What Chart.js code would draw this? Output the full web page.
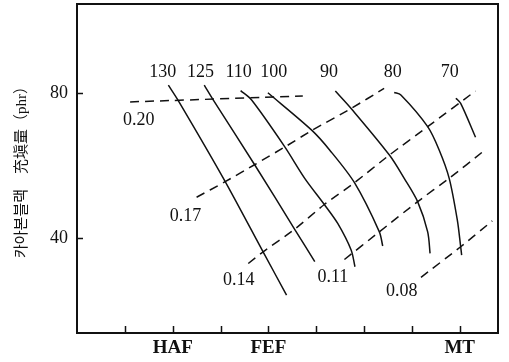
<!DOCTYPE html>
<html>
<head>
<meta charset="utf-8">
<script src="https://cdn.jsdelivr.net/npm/chart.js@4/dist/chart.umd.min.js"></script>
<style>
  html, body { margin: 0; padding: 0; background: #fff; }
  canvas { display: block; }
</style>
</head>
<body>
<canvas id="chart" width="509" height="362"></canvas>
<script>
// =========================
//  DATA
// =========================

const X_TICKS = [1, 2, 3, 4, 5, 6, 7, 8];
const X_TICK_NAMES = { 2: "HAF", 4: "FEF", 8: "MT" };
const Y_TICKS = [40, 80];
const Y_TITLE = "카아본블랙　充塡量（phr）";

// solid curves, [x, y] points
const c130 = [[1.91, 82.1], [2.12, 77.8], [3.06, 56.5], [3.89, 36.3], [4.38, 24.4]];
const c125 = [[2.66, 82.1], [2.85, 78.0], [3.72, 60.1], [4.55, 42.5], [4.97, 33.6]];
const c110 = [[3.42, 80.6], [3.65, 78.0], [4.34, 65.2], [4.76, 56.5], [5.17, 49.3], [5.45, 44.1], [5.73, 36.8], [5.81, 32.2]];
const c100 = [[3.99, 80.0], [4.90, 69.8], [5.28, 64.3], [5.80, 55.3], [6.32, 41.8], [6.39, 37.9]];
const c90  = [[5.40, 80.5], [5.73, 75.7], [6.53, 62.9], [6.84, 56.5], [7.12, 50.1], [7.33, 41.8], [7.38, 35.9]];
const c80  = [[6.63, 80.1], [6.77, 79.4], [7.33, 70.7], [7.57, 64.3], [7.78, 56.5], [7.95, 45.0], [8.02, 37.7], [8.04, 35.4]];
const c70  = [[7.92, 78.5], [8.02, 77.1], [8.33, 67.8]];

// dashed lines
const d20 = [[1.11, 77.5], [4.72, 79.1]];
const d17 = [[2.50, 51.3], [3.06, 55.3], [3.72, 60.3], [4.38, 65.4], [4.90, 69.6], [5.73, 75.7], [6.42, 81.2]];
const d14 = [[3.58, 33.1], [3.89, 36.3], [4.55, 42.5], [5.17, 49.3], [5.80, 55.3], [6.53, 62.9], [7.33, 70.7], [8.33, 80.5]];
const d11 = [[5.59, 34.2], [6.32, 41.8], [7.12, 50.1], [7.78, 56.5], [8.51, 64.1]];
const d08 = [[7.19, 29.3], [8.02, 37.7], [8.68, 44.8]];

const SOLID = [c130, c125, c110, c100, c90, c80, c70];
const DASHED = [d20, d17, d14, d11, d08];

// labels
const CURVE_NAMES = ["130", "125", "110", "100", "90", "80", "70"];
const CURVE_LABEL_X = [1.79, 2.58, 3.38, 4.11, 5.27, 6.60, 7.79];
const CURVE_LABEL_Y = 85.7;
const DASH_NAMES = ["0.20", "0.17", "0.14", "0.11", "0.08"];
const DASH_LABEL_X = [1.29, 2.27, 3.38, 5.35, 6.79];
const DASH_LABEL_Y = [72.5, 46.2, 28.5, 29.4, 25.4];

// =========================
//  STYLE
// =========================

const INK = "#111";
const SERIF = "'Liberation Serif', 'DejaVu Serif', serif";

function toPoints(arr) {
  return arr.map(p => ({ x: p[0], y: p[1] }));
}

const datasets = [
  ...SOLID.map(c => ({
    data: toPoints(c), showLine: true, borderColor: INK, borderWidth: 1.5,
    tension: 0.3, pointRadius: 0
  })),
  ...DASHED.map(d => ({
    data: toPoints(d), showLine: true, borderColor: INK, borderWidth: 1.5,
    borderDash: [9, 6], tension: 0.2, pointRadius: 0
  }))
];

// frame, inward ticks and text labels
const decor = {
  id: "decor",
  afterDraw(chart) {
    const { ctx, chartArea: a, scales: { x, y } } = chart;
    ctx.save();
    ctx.strokeStyle = INK;
    ctx.lineWidth = 2;
    ctx.strokeRect(a.left, a.top, a.right - a.left, a.bottom - a.top);

    ctx.lineWidth = 1.5;
    ctx.beginPath();
    X_TICKS.forEach(v => {
      const px = Math.round(x.getPixelForValue(v)) + 0.5;
      ctx.moveTo(px, a.bottom);
      ctx.lineTo(px, a.bottom - 7);
    });
    Y_TICKS.forEach(v => {
      const py = Math.round(y.getPixelForValue(v)) + 0.5;
      ctx.moveTo(a.left, py);
      ctx.lineTo(a.left + 6, py);
    });
    ctx.stroke();

    ctx.fillStyle = INK;
    ctx.font = "18px " + SERIF;
    ctx.textAlign = "center";
    ctx.textBaseline = "middle";
    CURVE_NAMES.forEach((t, i) => {
      ctx.fillText(t, x.getPixelForValue(CURVE_LABEL_X[i]), y.getPixelForValue(CURVE_LABEL_Y));
    });
    DASH_NAMES.forEach((t, i) => {
      ctx.fillText(t, x.getPixelForValue(DASH_LABEL_X[i]), y.getPixelForValue(DASH_LABEL_Y[i]));
    });
    ctx.restore();
  }
};

// =========================
//  CHART
// =========================

new Chart(document.getElementById("chart"), {
  type: "scatter",
  data: { datasets },
  options: {
    responsive: false,
    animation: false,
    devicePixelRatio: 1,
    layout: { padding: { top: 4, right: 11, left: 0, bottom: 0 } },
    plugins: { legend: { display: false }, tooltip: { enabled: false } },
    scales: {
      x: {
        type: "linear",
        min: 0,
        max: 8.8,
        afterBuildTicks: s => { s.ticks = X_TICKS.map(v => ({ value: v })); },
        afterFit: s => { s.height = 29; s.paddingLeft = 0; s.paddingRight = 0; },
        ticks: {
          callback: v => X_TICK_NAMES[v] || "",
          color: INK,
          font: { family: SERIF, size: 19, weight: "bold" },
          padding: 4,
          maxRotation: 0,
          autoSkip: false
        },
        grid: { display: false, drawTicks: false },
        border: { display: false }
      },
      y: {
        type: "linear",
        min: 14,
        max: 104.4,
        afterBuildTicks: s => { s.ticks = Y_TICKS.map(v => ({ value: v })); },
        afterFit: s => { s.width = 77; s.paddingTop = 0; s.paddingBottom = 0; },
        ticks: {
          color: INK,
          font: { family: SERIF, size: 18 },
          padding: 9
        },
        grid: { display: false, drawTicks: false },
        border: { display: false },
        title: {
          display: true,
          text: Y_TITLE,
          color: INK,
          font: { family: SERIF + ", 'Noto Sans CJK KR'", size: 15 },
          padding: { top: 13, bottom: 0 }
        }
      }
    }
  },
  plugins: [decor]
});
</script>
</body>
</html>
